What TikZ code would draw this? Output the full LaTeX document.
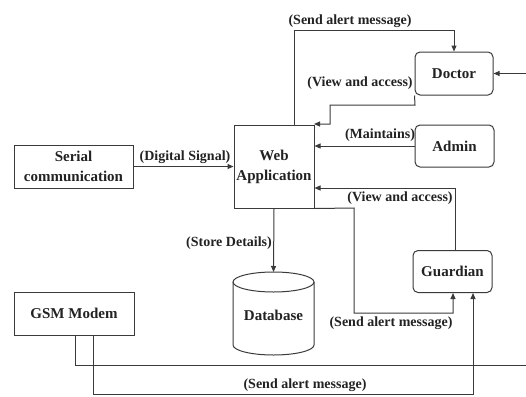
\documentclass[tikz,border=0pt]{standalone}
\usepackage{fontspec}
\setmainfont{Liberation Serif}
\usetikzlibrary{arrows.meta}
\definecolor{ln}{HTML}{3A3A3A}
\definecolor{tx}{HTML}{222222}
\tikzset{
  box/.style={draw=ln, line width=1pt, fill=white, align=center, text=tx,
    font=\fontsize{15}{20}\selectfont\bfseries, inner sep=1pt},
  sqbox/.style={box},
  rbox/.style={box, rounded corners=5pt},
  lbl/.style={text=tx, font=\fontsize{14}{16}\selectfont\bfseries, inner sep=0pt},
  wire/.style={draw=ln, line width=1pt},
  arr/.style={wire, -{Triangle[length=6pt,width=5pt]}},
}
\begin{document}
\begin{tikzpicture}[x=1pt,y=-1pt]
\useasboundingbox (0,0) rectangle (526,396);

% nodes
\node[sqbox, minimum width=80pt, minimum height=83pt] (web) at (274,166.5) {Web\\Application};
\node[rbox, minimum width=78pt, minimum height=43pt] (doctor) at (454,73.5) {Doctor};
\node[rbox, minimum width=79pt, minimum height=42pt] (admin) at (454.5,146) {Admin};
\node[rbox, minimum width=79pt, minimum height=42pt] (guardian) at (452.5,271.5) {Guardian};
\node[sqbox, minimum width=119pt, minimum height=43pt] (serial) at (73.5,166.5) {Serial\\communication};
\node[sqbox, minimum width=120pt, minimum height=43pt] (gsm) at (74,313.5) {GSM Modem};

% database cylinder
\draw[wire, fill=white] (233,282) -- (233,345) arc[start angle=180, end angle=0, x radius=40.5, y radius=10] -- (314,282);
\draw[wire] (273.5,282) ellipse [x radius=40.5, y radius=10];
\node[box, draw=none, fill=none] (db) at (273.5,315) {Database};
\coordinate (dbtop) at (273.5,272);

% corner coordinates
\coordinate (a1) at (294,31);
\coordinate (a2) at (454,31);
\coordinate (b1) at (415,105);
\coordinate (b2) at (330,105);
\coordinate (b3) at (330,124);
\coordinate (b4) at (314,124);
\coordinate (g1) at (455,188);
\coordinate (s1) at (354,208);
\coordinate (s2) at (354,313);
\coordinate (s3) at (453,313);
\coordinate (m1) at (75,365);
\coordinate (m2) at (540,365);
\coordinate (m3) at (540,73.5);
\coordinate (n1) at (93,394);
\coordinate (n2) at (473,394);

% connectors
\draw[arr] (a1 |- web.north) -- (a1) -- (a2) -- (doctor.north);
\draw[arr] (doctor.south west) -- (b1) -- (b2) -- (b3) -- (b4);
\draw[arr] (serial.east) -- (web.west);
\draw[arr] (admin.west) -- (admin.west -| web.east);
\draw[arr] (g1 |- guardian.north) -- (g1) -- (g1 -| web.east);
\draw[arr] (web.south) -- (dbtop);
\draw[arr] (web.south east) -- (s1) -- (s2) -- (s3) -- (s3 |- guardian.south);
\draw[arr] (m1 |- gsm.south) -- (m1) -- (m2) -- (m3) -- (doctor.east);
\draw[arr] (n1 |- gsm.south) -- (n1) -- (n2) -- (n2 |- guardian.south);

% labels
\node[lbl] (l1) at (350,21) {(Send alert message)};
\node[lbl] (l2) at (360,83) {(View and access)};
\node[lbl] (l3) at (185,157) {(Digital Signal)};
\node[lbl] (l4) at (380,135) {(Maintains)};
\node[lbl] (l5) at (400,198.5) {(View and access)};
\node[lbl] (l6) at (229,243) {(Store Details)};
\node[lbl] (l7) at (391,323.5) {(Send alert message)};
\node[lbl] (l8) at (305,385) {(Send alert message)};
\end{tikzpicture}
\end{document}
